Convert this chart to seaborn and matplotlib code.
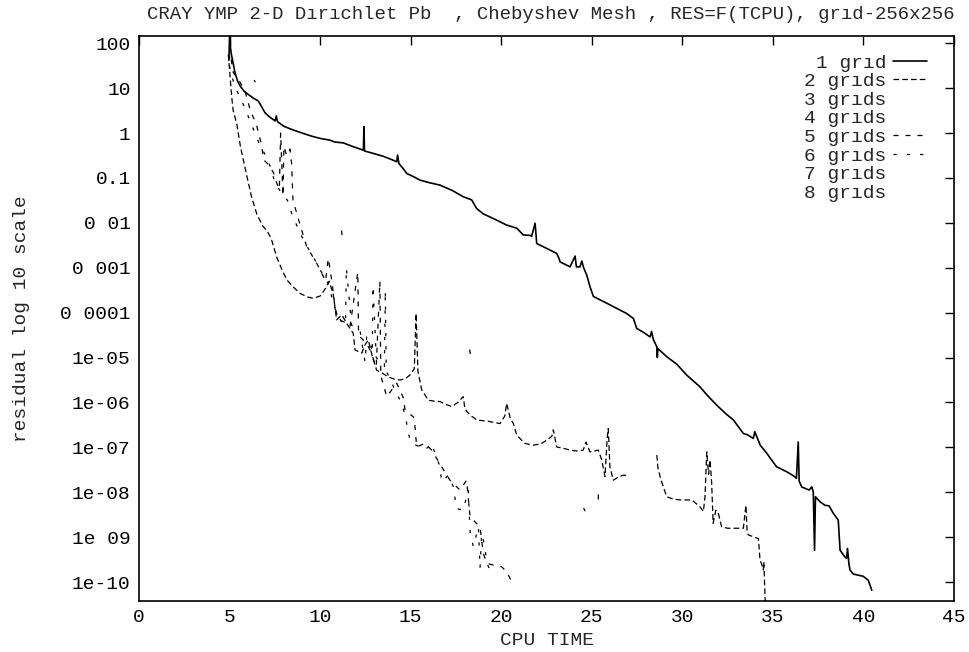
import numpy as np
import pandas as pd
import matplotlib
matplotlib.use("Agg")
import matplotlib.pyplot as plt
from matplotlib.lines import Line2D
from matplotlib.ticker import NullLocator, FixedLocator
import seaborn as sns

# ---------------- data: CPU time and log10(residual) ----------------
g1_t = [4.97, 5.02, 5.05, 5.1, 5.2, 5.3, 5.45, 5.58, 5.8, 6.03,
        6.3, 6.59, 6.75, 6.96, 7.2, 7.51, 7.58, 7.65, 8.0, 8.43,
        9.0, 9.53, 10.0, 10.55, 10.8, 11.28, 11.8, 12.3, 12.39, 12.42,
        12.45, 12.9, 13.5, 14.0, 14.23, 14.28, 14.35, 14.6, 14.78, 15.15,
        15.52, 16.07, 16.62, 17.3, 17.91, 18.37, 18.64, 19.01, 19.75, 20.3,
        20.86, 21.22, 21.6, 21.68, 21.87, 21.96, 22.51, 23.06, 23.2, 23.25,
        23.5, 23.8, 24.08, 24.15, 24.35, 24.45, 24.55, 24.72, 24.9, 25.09,
        25.83, 26.5, 26.93, 27.3, 27.48, 27.9, 28.22, 28.3, 28.4, 28.59,
        28.62, 28.65, 29.14, 29.7, 30.24, 30.97, 31.4, 31.9, 32.4, 32.82,
        33.37, 33.6, 33.92, 34.0, 34.3, 34.66, 35.2, 35.8, 36.2, 36.3,
        36.4, 36.45, 36.59, 37.0, 37.15, 37.23, 37.3, 37.35, 37.6, 37.88,
        38.1, 38.34, 38.61, 38.71, 39.0, 39.07, 39.12, 39.2, 39.26, 39.44,
        39.99, 40.27, 40.46]
g1_lr = [1.7, 2.4, 1.9, 1.75, 1.55, 1.34, 1.15, 1.05, 0.93, 0.86,
         0.78, 0.71, 0.6, 0.45, 0.36, 0.27, 0.38, 0.25, 0.15, 0.08,
         0.0, -0.07, -0.12, -0.16, -0.2, -0.22, -0.3, -0.37, -0.38, 0.14,
         -0.4, -0.45, -0.52, -0.6, -0.64, -0.49, -0.68, -0.8, -0.9, -0.97,
         -1.05, -1.11, -1.16, -1.28, -1.42, -1.49, -1.68, -1.8, -1.94, -2.05,
         -2.12, -2.27, -2.28, -2.3, -2.01, -2.46, -2.57, -2.68, -2.8, -2.87,
         -2.92, -2.98, -2.74, -2.98, -2.98, -2.85, -3.0, -3.16, -3.42, -3.64,
         -3.79, -3.93, -4.02, -4.13, -4.35, -4.45, -4.54, -4.42, -4.6, -4.76,
         -5.0, -4.8, -4.98, -5.15, -5.39, -5.65, -5.85, -6.06, -6.25, -6.39,
         -6.69, -6.72, -6.8, -6.65, -6.95, -7.13, -7.43, -7.55, -7.65, -7.69,
         -6.88, -7.75, -7.88, -7.95, -7.88, -7.99, -9.29, -8.1, -8.21, -8.29,
         -8.3, -8.47, -8.62, -9.29, -9.45, -9.47, -9.25, -9.6, -9.73, -9.82,
         -9.87, -9.96, -10.18]

g2_t = [4.93, 5.02, 5.12, 5.2, 5.4, 5.6, 5.95, 6.2, 6.5, 6.8,
        7.1, 7.3, 7.6, 7.9, 8.16, 8.5, 8.89, 9.3, 9.62, 10.0,
        10.18, 10.36, 10.5, 10.73, 10.91, 11.2, 11.47, 11.83, 11.93, 12.3,
        12.5, 12.66, 12.9, 13.12, 13.45, 13.77, 14.1, 14.41, 14.7, 14.96,
        15.2, 15.3, 15.4, 15.61, 15.98, 16.3, 16.62, 17.0, 17.27, 17.6,
        17.9, 18.0, 18.28, 18.35, 18.65, 19.3, 19.93, 20.2, 20.3,
        20.5, 20.67, 20.86, 21.3, 21.77, 22.2, 22.51, 22.8, 22.88, 23.06,
        23.43, 23.8, 24.2, 24.53, 24.68, 24.9, 25.36, 25.55, 25.73, 25.85,
        25.91, 26.0, 26.19, 26.5, 26.74, 27.02]
g2_lr = [1.75, 1.3, 0.8, 0.5, 0.2, -0.3, -0.95, -1.4, -1.8, -2.05,
         -2.2, -2.35, -2.76, -3.05, -3.27, -3.42, -3.57, -3.65, -3.68, -3.63,
         -3.53, -3.42, -3.3, -3.6, -4.16, -4.05, -4.24, -4.46, -4.83, -4.9,
         -4.7, -4.61, -5.0, -5.28, -5.35, -5.43, -5.48, -5.5, -5.47, -5.39,
         -5.25, -4.02, -5.3, -5.72, -5.95, -5.97, -5.98, -6.05, -6.09, -6.0,
         -5.87, -6.15, -6.28, -6.3, -6.39, -6.42, -6.47, -6.3, -6.02,
         -6.35, -6.47, -6.73, -6.91, -6.95, -6.92, -6.84, -6.75, -6.61, -6.99,
         -7.02, -7.06, -7.08, -7.06, -6.88, -7.1, -7.06, -7.28, -7.65, -6.8,
         -6.58, -7.43, -7.73, -7.65, -7.62, -7.62]
g2b_t = [28.59, 28.65, 28.77, 28.95, 29.14, 29.5, 29.87, 30.52, 30.97, 31.16,
         31.25, 31.35, 31.45, 31.53, 31.62, 31.7, 31.85, 31.99, 32.17, 32.5,
         32.82, 33.37, 33.51, 33.58, 33.65, 34.2, 34.29, 34.38, 34.47, 34.5,
         34.57, 34.62]
g2b_lr = [-7.17, -7.45, -7.65, -7.88, -8.1, -8.15, -8.17, -8.17, -8.32, -8.43,
          -8.1, -7.1, -7.6, -7.28, -7.8, -8.69, -8.4, -8.47, -8.77, -8.8,
          -8.8, -8.8, -8.29, -8.9, -8.95, -9.03, -9.51, -9.6, -9.73, -9.55,
          -10.36, -10.6]

g5_t = [4.95, 5.05, 5.2, 5.48, 5.85, 6.13, 6.5, 6.78, 6.87, 7.14,
        7.42, 7.6, 7.75, 7.82, 7.95, 8.0, 8.15, 8.34, 8.43, 8.5,
        8.71, 8.98, 9.26, 9.81, 10.09, 10.3, 10.45, 10.64, 10.82, 11.0,
        11.3, 11.65, 12.08, 12.12, 12.2, 12.57, 12.75, 13.1, 13.3, 13.35,
        13.68, 14.23, 14.6, 14.69, 15.15, 15.24, 15.33, 15.79, 16.16, 16.71,
        17.17, 17.72, 18.09, 18.28, 18.83, 19.01, 19.2, 19.57, 20.03, 20.3,
        20.58]
g5_lr = [1.6, 1.75, 1.35, 1.2, 0.94, 0.53, 0.16, -0.29, -0.59, -0.7,
         -0.88, -1.11, -1.25, 0.0, -1.4, -0.3, -0.5, -0.36, -0.7, -1.49,
         -1.79, -2.16, -2.53, -2.9, -3.12, -3.3, -2.79, -3.27, -3.87, -4.16,
         -4.2, -4.31, -3.1, -4.4, -4.54, -4.68, -4.83, -5.2, -3.3, -5.4,
         -5.87, -5.57, -5.9, -6.17, -6.32, -6.54, -6.99, -6.91, -7.06, -7.43,
         -7.73, -7.95, -7.73, -8.55, -8.77, -9.36, -9.58, -9.62, -9.66, -9.77,
         -9.99]

g6_t = [5.0, 5.1, 5.25, 5.5, 5.8, 6.1, 6.4, 6.7, 7.0, 7.3,
        7.51, 7.9, 8.2, 8.43, 8.89, 9.44, 9.72, 10.0, 10.36, 10.55,
        10.73, 10.91, 11.19, 11.4, 11.45, 11.74, 12.2, 12.48, 12.57, 12.75,
        12.88, 12.92, 13.1, 13.55, 13.6, 13.65, 13.9, 14.2, 14.5, 14.7,
        14.96, 15.06, 15.52, 15.79, 16.16, 16.34, 16.62, 16.71, 17.08, 17.36,
        17.53, 17.9, 18.18, 18.28, 18.46, 18.74, 18.83, 18.92, 19.1, 19.2,
        19.57]
g6_lr = [1.5, 1.3, 1.1, 0.85, 0.6, 0.3, 0.0, -0.3, -0.5, -0.8,
         -1.12, -1.35, -1.5, -1.79, -2.23, -2.64, -2.83, -3.05, -3.27, -3.5,
         -3.79, -4.02, -4.2, -4.25, -3.0, -4.28, -4.39, -5.1, -4.54, -4.61,
         -4.9, -3.4, -5.0, -5.2, -3.5, -5.3, -5.5, -5.8, -6.0, -6.3,
         -6.84, -6.91, -6.99, -7.06, -6.91, -7.13, -7.43, -7.77, -7.62, -7.88,
         -8.36, -8.4, -7.95, -8.88, -9.21, -8.77, -9.69, -8.92, -9.21, -9.58,
         -9.88]

# short isolated fragments visible in the scan
bits_t = [[6.36, 6.42], [11.18, 11.21], [18.26, 18.29], [24.55, 24.63], [25.36, 25.37]]
bits_lr = [[1.18, 1.13], [-2.17, -2.27], [-4.82, -4.92], [-8.35, -8.42], [-8.05, -8.3]]

legend_labels = ["1 grıd", "2 grıds", "3 grıds", "4 grıds",
                 "5 grıds", "6 grıds", "7 grıds", "8 grıds"]
ytick_vals = [1e-10, 1e-9, 1e-8, 1e-7, 1e-6, 1e-5, 1e-4, 1e-3, 1e-2, 1e-1, 1, 10, 100]
ytick_labels = ["1e-10", "1e 09", "1e-08", "1e-07", "1e-06", "1e-05",
                "0 0001", "0 001", "0 01", "0.1", "1", "10", "100"]
xtick_vals = [0, 5, 10, 15, 20, 25, 30, 35, 40, 45]
title = "CRAY YMP 2-D Dırıchlet Pb  , Chebyshev Mesh , RES=F(TCPU), grıd-256x256"

# ---------------- build long table ----------------
rows = []
def add(series, seg, t, lr):
    for a, b in zip(t, lr):
        rows.append((series, seg, a, 10.0 ** b))

add("1", 0, g1_t, g1_lr)
add("2", 0, g2_t, g2_lr)
add("2", 1, g2b_t, g2b_lr)
add("5", 0, g5_t, g5_lr)
for i, (bt, bl) in enumerate(zip(bits_t, bits_lr)):
    add("5", 10 + i, bt, bl)
add("6", 0, g6_t, g6_lr)
df = pd.DataFrame(rows, columns=["series", "seg", "t", "res"])

# ---------------- style ----------------
sns.set_style("white")
plt.rcParams["font.family"] = ["Liberation Mono", "DejaVu Sans Mono", "DejaVu Sans"]
FS = 14

fig = plt.figure(figsize=(9.7, 6.52), dpi=100)
ax = fig.add_axes([139 / 970, 1 - 601 / 652, (954 - 139) / 970, (601 - 36) / 652])
ax.set_yscale("log")

styles = {
    "1": dict(linestyle="-", linewidth=1.2),
    "2": dict(linestyle=(0, (4.5, 2.5)), linewidth=0.9),
    "5": dict(linestyle=(0, (4.0, 5.6)), linewidth=0.9),
    "6": dict(linestyle=(0, (2.6, 8.0)), linewidth=0.9),
}
for s, st in styles.items():
    sub = df[df["series"] == s]
    sns.lineplot(data=sub, x="t", y="res", units="seg", estimator=None, sort=False,
                 color="black", ax=ax, legend=False, **st)

ax.set_xlim(0, 45)
ax.set_ylim(10 ** -10.42, 10 ** 2.16)
ax.yaxis.set_major_locator(FixedLocator(ytick_vals))
ax.yaxis.set_minor_locator(NullLocator())
ax.set_yticks(ytick_vals)
ax.set_yticklabels(ytick_labels)
ax.set_xticks(xtick_vals)
ax.set_xticklabels([str(v) for v in xtick_vals])
ax.tick_params(axis="both", which="major", direction="in", length=6.5, width=1.0,
               top=True, right=True, labelsize=FS, pad=6, colors="black")
for sp in ax.spines.values():
    sp.set_visible(True)
    sp.set_linewidth(1.2)
    sp.set_color("black")

ax.set_xlabel("CPU TIME", fontsize=FS, labelpad=4)
ax.set_ylabel("residual log 10 scale", fontsize=FS)
ax.yaxis.set_label_coords(-0.134, 0.5)
ax.set_title(title, fontsize=13.7, pad=12, x=0.505)

handles = [
    Line2D([], [], color="black", **styles["1"]),
    Line2D([], [], color="black", **styles["2"]),
    Line2D([], [], linestyle="none"),
    Line2D([], [], linestyle="none"),
    Line2D([], [], color="black", **styles["5"]),
    Line2D([], [], color="black", **styles["6"]),
    Line2D([], [], linestyle="none"),
    Line2D([], [], linestyle="none"),
]
ax.legend(handles, legend_labels, loc="upper right",
          bbox_to_anchor=((927 - 139) / 815, (601 - 54) / 565),
          frameon=False, fontsize=FS, markerfirst=False, handlelength=1.75,
          handletextpad=0.35, labelspacing=0.05, borderpad=0, borderaxespad=0)

fig.savefig("out.png", dpi=100)
